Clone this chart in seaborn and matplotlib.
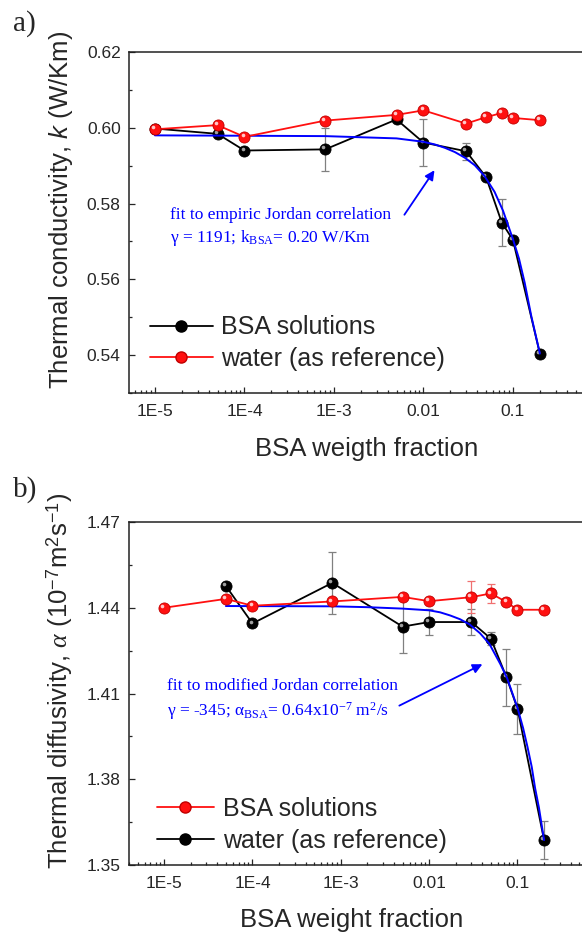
import matplotlib
matplotlib.use("Agg")
import matplotlib.pyplot as plt
import matplotlib.transforms as mtransforms
from matplotlib.lines import Line2D
from matplotlib.ticker import LogLocator, NullFormatter, MultipleLocator
import seaborn as sns

# ==========================
# data
# ==========================
# a) thermal conductivity
w_a = [1e-5, 5e-5, 1e-4, 8e-4, 5e-3, 0.01, 0.03, 0.05, 0.075, 0.1, 0.2]
k_water = [0.5996, 0.6007, 0.5976, 0.6019, 0.6034, 0.6046, 0.6011, 0.6028, 0.6039, 0.6026, 0.6020]
k_bsa = [0.5998, 0.5984, 0.5940, 0.5943, 0.6022, 0.5961, 0.5938, 0.5870, 0.5750, 0.5704, 0.5404]
k_bsa_err = [0.0004, 0.0005, 0.0005, 0.0056, 0.0005, 0.0061, 0.0022, 0.0008, 0.0063, 0.0008, 0.0005]
w_fit_a = [1e-5, 1e-4, 8e-4, 2e-3, 5e-3, 0.01, 0.0134, 0.0174, 0.0224, 0.029, 0.0375,
           0.048, 0.0623, 0.0775, 0.1, 0.117, 0.135, 0.16, 0.2]
k_fit = [0.5980, 0.5979, 0.5978, 0.5975, 0.5972, 0.5963, 0.5956, 0.5947, 0.5936, 0.5921,
         0.5901, 0.5873, 0.5831, 0.5781, 0.5706, 0.5654, 0.5592, 0.5504, 0.5404]

# b) thermal diffusivity
w_b_red = [1e-5, 5e-5, 1e-4, 8e-4, 5e-3, 0.01, 0.03, 0.05, 0.075, 0.1, 0.2]
a_red = [1.4400, 1.4431, 1.4407, 1.4422, 1.4438, 1.4423, 1.4437, 1.4450, 1.4420, 1.4393, 1.4393]
a_red_err = [0.0003, 0.0005, 0.0005, 0.0008, 0.0005, 0.0005, 0.0056, 0.0033, 0.0005, 0.0005, 0.0005]
w_b_black = [5e-5, 1e-4, 8e-4, 5e-3, 0.01, 0.03, 0.05, 0.075, 0.1, 0.2]
a_black = [1.4476, 1.4345, 1.4487, 1.4334, 1.4350, 1.4350, 1.4292, 1.4157, 1.4047, 1.3587]
a_black_err = [0.0005, 0.0005, 0.0108, 0.0094, 0.0047, 0.0047, 0.0023, 0.0099, 0.0087, 0.0066]
w_fit_b = [5e-5, 8e-4, 2e-3, 5e-3, 0.01, 0.0133, 0.0173, 0.0223, 0.0286, 0.0376, 0.048,
           0.0637, 0.076, 0.1, 0.116, 0.13, 0.145, 0.158, 0.175, 0.2]
a_fit = [1.4406, 1.4405, 1.4402, 1.4397, 1.4391, 1.4384, 1.4373, 1.4360, 1.4342, 1.4311,
         1.4274, 1.4204, 1.4155, 1.4050, 1.3978, 1.3912, 1.3843, 1.3770, 1.3700, 1.3587]

xtick_vals = [1e-5, 1e-4, 1e-3, 1e-2, 1e-1]
xtick_labels = ["1E-5", "1E-4", "1E-3", "0.01", "0.1"]
ytick_a = [0.54, 0.56, 0.58, 0.60, 0.62]
ytick_b = [1.35, 1.38, 1.41, 1.44, 1.47]

# ==========================
# style
# ==========================
sns.set_style("ticks")
plt.rcParams["font.family"] = ["Liberation Sans", "DejaVu Sans"]
plt.rcParams["mathtext.fontset"] = "custom"
plt.rcParams["mathtext.rm"] = "Liberation Sans"
plt.rcParams["mathtext.it"] = "Liberation Serif:italic"
plt.rcParams["mathtext.sf"] = "Liberation Serif"
plt.rcParams["mathtext.bf"] = "Liberation Sans:italic"

RED = "#ff1010"
BLUE = "#0000ff"
SERIF = ["Liberation Serif", "DejaVu Serif"]
MS = 8

fig = plt.figure(figsize=(5.82, 9.35), dpi=100)
W, H = 582, 935
ax_a = fig.add_axes([129 / W, 1 - 393 / H, 461 / W, 341 / H])
ax_b = fig.add_axes([129 / W, 1 - 865 / H, 461 / W, 343 / H])


def draw_series(ax, x, y, color, edge, hl, z):
    sns.lineplot(x=x, y=y, ax=ax, color=color, marker="o", markersize=MS,
                 markeredgecolor=edge, markeredgewidth=0.6, linewidth=1.3,
                 sort=False, zorder=z, legend=False)
    off = mtransforms.ScaledTranslation(-1.4 / 72, 1.4 / 72, fig.dpi_scale_trans)
    ax.plot(x, y, ls="none", marker="o", ms=2.6, color=hl, mew=0,
            transform=ax.transData + off, zorder=z + 0.1)


def style_axes(ax, xlim, ylim, yticks, minor_y):
    ax.set_xscale("log")
    ax.set_xlim(*xlim)
    ax.set_ylim(*ylim)
    ax.set_xticks(xtick_vals, xtick_labels)
    ax.xaxis.set_minor_locator(LogLocator(base=10, subs=range(2, 10), numticks=20))
    ax.xaxis.set_minor_formatter(NullFormatter())
    ax.set_yticks(yticks, [f"{v:.2f}" for v in yticks])
    ax.yaxis.set_minor_locator(MultipleLocator(minor_y))
    ax.tick_params(which="both", direction="in", width=0.9, labelsize=12.5,
                   top=False, right=False)
    ax.tick_params(which="major", length=4)
    ax.tick_params(which="minor", length=2.2)
    ax.tick_params(axis="x", pad=8)
    ax.tick_params(axis="y", pad=6)
    for s in ax.spines.values():
        s.set_linewidth(1.1)
        s.set_color("#222222")


# ==========================
# a) conductivity
# ==========================
ax = ax_a
ax.errorbar(w_a, k_bsa, yerr=k_bsa_err, fmt="none", ecolor="#808080",
            elinewidth=0.9, capsize=3, capthick=0.9, zorder=1.5)
draw_series(ax, w_a, k_bsa, "black", "black", "#a0a0a0", 2)
sns.lineplot(x=w_fit_a, y=k_fit, ax=ax, color=BLUE, linewidth=1.4, sort=False, zorder=2.5)
draw_series(ax, w_a, k_water, RED, "#c00000", "#ffc8c8", 3)
style_axes(ax, (5.13e-6, 0.726), (0.53, 0.62), ytick_a, 0.01)
ax.set_ylabel(r"Thermal conductivity, $\mathbf{k}$ (W/Km)", fontsize=18.5)
ax.set_xlabel("BSA weigth fraction", fontsize=18.5)
ax.yaxis.set_label_coords(-0.117, 0.537)
ax.xaxis.set_label_coords(0.516, -0.128)

ax.text(0.089, 0.51, "fit to empiric Jordan correlation", transform=ax.transAxes,
        color=BLUE, fontsize=12.5, family=SERIF, va="baseline")
ax.text(0.089, 0.443, r"γ = 1191; k$_{\mathsf{BSA}}$= 0.20 W/Km", transform=ax.transAxes,
        color=BLUE, fontsize=12.5, family=SERIF, va="baseline")
ax.annotate("", xy=(0.666, 0.660), xytext=(0.594, 0.516), xycoords="axes fraction",
            arrowprops=dict(arrowstyle="-|>", color=BLUE, lw=1.3, mutation_scale=14))

h_black = Line2D([], [], color="black", marker="o", ms=MS, mec="black", lw=1.3)
h_red = Line2D([], [], color=RED, marker="o", ms=MS, mec="#c00000", lw=1.3)
ax.legend([h_black, h_red], ["BSA solutions", "water (as reference)"], loc="upper left",
          bbox_to_anchor=(0.046, 0.228), frameon=False, fontsize=18, handlelength=2.5,
          handletextpad=0.35, labelspacing=0.3, borderpad=0, borderaxespad=0)

# ==========================
# b) diffusivity
# ==========================
ax = ax_b
ax.errorbar(w_b_black, a_black, yerr=a_black_err, fmt="none", ecolor="#808080",
            elinewidth=0.9, capsize=3, capthick=0.9, zorder=1.5)
ax.errorbar(w_b_red, a_red, yerr=a_red_err, fmt="none", ecolor="#f07070",
            elinewidth=0.9, capsize=3, capthick=0.9, zorder=1.6)
draw_series(ax, w_b_black, a_black, "black", "black", "#a0a0a0", 2)
sns.lineplot(x=w_fit_b, y=a_fit, ax=ax, color=BLUE, linewidth=1.4, sort=False, zorder=2.5)
draw_series(ax, w_b_red, a_red, RED, "#c00000", "#ffc8c8", 3)
style_axes(ax, (4.0e-6, 0.662), (1.35, 1.47), ytick_b, 0.015)
ax.set_ylabel(r"Thermal diffusivity, $\alpha$ (10$^{\mathrm{-7}}$m$^{\mathrm{2}}$s$^{\mathrm{-1}}$)",
              fontsize=18.5)
ax.set_xlabel("BSA weight fraction", fontsize=18.5)
ax.yaxis.set_label_coords(-0.117, 0.536)
ax.xaxis.set_label_coords(0.484, -0.124)

ax.text(0.082, 0.51, "fit to modified Jordan correlation", transform=ax.transAxes,
        color=BLUE, fontsize=12.5, family=SERIF, va="baseline")
ax.text(0.082, 0.434,
        r"γ = -345; α$_{\mathsf{BSA}}$= 0.64x10$^{\mathsf{-7}}$ m$^{\mathsf{2}}$/s",
        transform=ax.transAxes, color=BLUE, fontsize=12.5, family=SERIF, va="baseline")
ax.annotate("", xy=(0.772, 0.589), xytext=(0.581, 0.461), xycoords="axes fraction",
            arrowprops=dict(arrowstyle="-|>", color=BLUE, lw=1.3, mutation_scale=14))

ax.legend([h_red, h_black], ["BSA solutions", "water (as reference)"], loc="upper left",
          bbox_to_anchor=(0.06, 0.198), frameon=False, fontsize=18, handlelength=2.3,
          handletextpad=0.35, labelspacing=0.3, borderpad=0, borderaxespad=0)

# panel letters
fig.text(13 / W, 1 - 31 / H, "a)", family=SERIF, fontsize=21, va="baseline")
fig.text(13 / W, 1 - 497 / H, "b)", family=SERIF, fontsize=21, va="baseline")

fig.savefig("out.png", dpi=100)
